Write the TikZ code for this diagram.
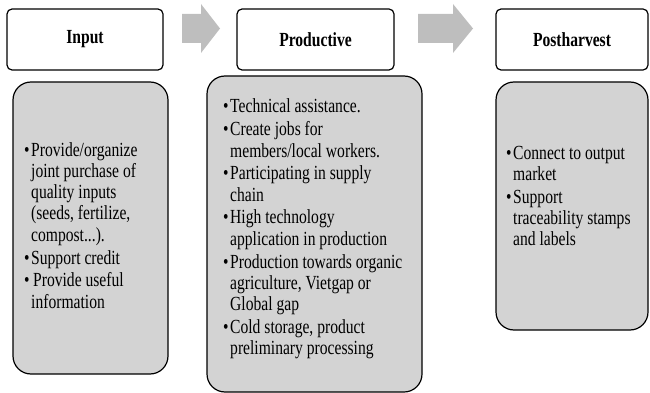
\documentclass[tikz,border=0pt]{standalone}
\usepackage{fontspec}
\setmainfont[FakeStretch=0.78]{Liberation Serif}

\definecolor{panelgray}{RGB}{211,211,211}
\definecolor{arrowgray}{RGB}{190,190,190}

\newcommand\bitem[1]{\noindent\llap{\textbullet\hspace{1.5pt}}#1\par\vspace{1.5pt}}

\tikzset{
	head/.style={draw, line width=1.2pt, rounded corners=5pt, minimum height=61pt,
		font=\fontsize{20}{24}\selectfont\bfseries},
	panel/.style={draw, line width=1.2pt, fill=panelgray, rounded corners=18pt},
	items/.style={anchor=base west, inner sep=0pt, align=flush left, text width=#1,
		font=\fontsize{20}{21.3}\selectfont,
		execute at begin node={\leftskip=6pt\spaceskip=0pt\xspaceskip=0pt}},
	blockarrow/.style={fill=arrowgray}
}

\begin{document}
\begin{tikzpicture}[x=1pt,y=-1pt]
	\useasboundingbox (0,0) rectangle (650,393);

	% headers
	\node[head, minimum width=156pt] (input) at (85,39.5) {Input};
	\node[head, minimum width=157pt] (prod) at (315.5,39.5) {Productive};
	\node[head, minimum width=152pt] (post) at (572,39.5) {Postharvest};

	% block arrows
	\fill[blockarrow] (182,14) -- (201,14) -- (201,4) -- (220,28.5) -- (201,53) -- (201,43) -- (182,43) -- cycle;
	\fill[blockarrow] (418,14) -- (453,14) -- (453,4) -- (473,28.5) -- (453,53) -- (453,43) -- (418,43) -- cycle;

	% panels
	\node[panel, minimum width=155pt, minimum height=292pt] (inputbox) at (90.5,228) {};
	\node[panel, minimum width=215pt, minimum height=316pt] (prodbox) at (314.5,234) {};
	\node[panel, minimum width=152pt, minimum height=248pt] (postbox) at (572,206) {};

	% texts
	\node[items=135pt] (inputtext) at (25,156) {%
		\bitem{Provide/organize\newline joint purchase of\newline quality inputs\newline (seeds, fertilize,\newline compost...).}
		\bitem{Support credit}
		\bitem{\hspace{2pt}Provide useful\newline information}};
	\node[items=195pt] (prodtext) at (224,113) {%
		\bitem{Technical assistance.}
		\bitem{Create jobs for\newline members/local workers.}
		\bitem{Participating in supply\newline chain}
		\bitem{High technology\newline application in production}
		\bitem{Production towards organic\newline agriculture, Vietgap or\newline Global gap}
		\bitem{Cold storage, product\newline preliminary processing}};
	\node[items=135pt] (posttext) at (507,159) {%
		\bitem{Connect to output\newline market}
		\bitem{Support\newline traceability stamps\newline and labels}};

\end{tikzpicture}
\end{document}
